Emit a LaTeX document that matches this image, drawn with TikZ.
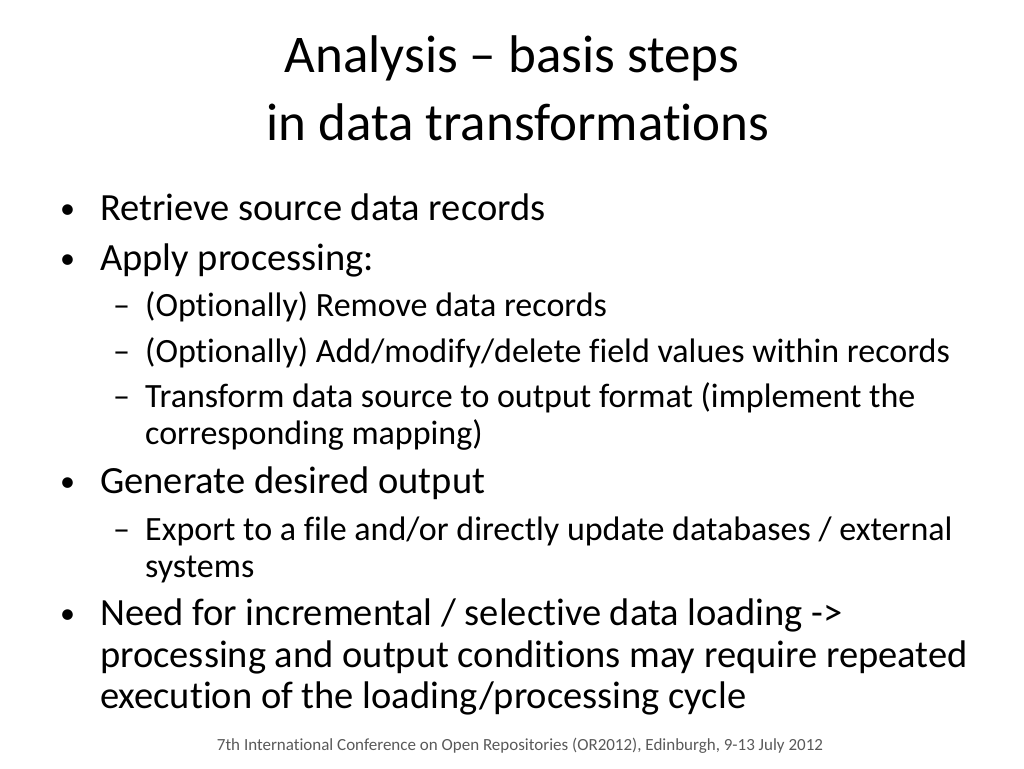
\documentclass[tikz,border=0pt]{standalone}
\usepackage{fontspec}
\setmainfont{Carlito}[RawFeature={-liga;-calt}]
\begin{document}
\begin{tikzpicture}[x=1pt,y=-1pt,
  lone/.style={anchor=base west,inner sep=0,font=\fontsize{38.5}{44}\selectfont},
  ltwo/.style={anchor=base west,inner sep=0,font=\fontsize{34}{40}\selectfont},
  bul/.style={anchor=base west,inner sep=0,font=\fontsize{30}{38}\selectfont},
  ttl/.style={anchor=base,inner sep=0,font=\fontsize{53}{60}\selectfont}]
\useasboundingbox (0,0) rectangle (1024,768);
\node[ttl] (title) at (512,72) {Analysis – basis steps};
\node[ttl] (title2) at (518,140) {in data transformations};
\node[bul] (b1) at (60,218) {•}; \node[lone] (t1) at (100,220) {Retrieve source data records};
\node[bul] (b2) at (60,268) {•}; \node[lone] (t2) at (100,270) {Apply processing:};
\node[ltwo] (d1) at (113,316) {–}; \node[ltwo] (s1) at (145,316) {(Optionally) Remove data records};
\node[ltwo] (d2) at (113,362) {–}; \node[ltwo] (s2) at (145,362) {(Optionally) Add/modify/delete field values within records};
\node[ltwo] (d3) at (113,407) {–}; \node[ltwo] (s3) at (145,407) {Transform data source to output format (implement the};
\node[ltwo] (s3b) at (145,444) {corresponding mapping)};
\node[bul] (b3) at (60,491) {•}; \node[lone] (t3) at (100,493) {Generate desired output};
\node[ltwo] (d4) at (113,540) {–}; \node[ltwo] (s4) at (145,540) {Export to a file and/or directly update databases / external};
\node[ltwo] (s4b) at (145,577) {systems};
\node[bul] (b4) at (60,623) {•}; \node[lone] (t4) at (100,625) {Need for incremental / selective data loading ->};
\node[lone] (t4b) at (100,667) {processing and output conditions may require repeated};
\node[lone] (t4c) at (100,708) {execution of the loading/processing cycle};
\node[anchor=base,inner sep=0,font=\fontsize{17}{20}\selectfont,text=black!65] (foot) at (520,750) {7th International Conference on Open Repositories (OR2012), Edinburgh, 9-13 July 2012};
\end{tikzpicture}
\end{document}
